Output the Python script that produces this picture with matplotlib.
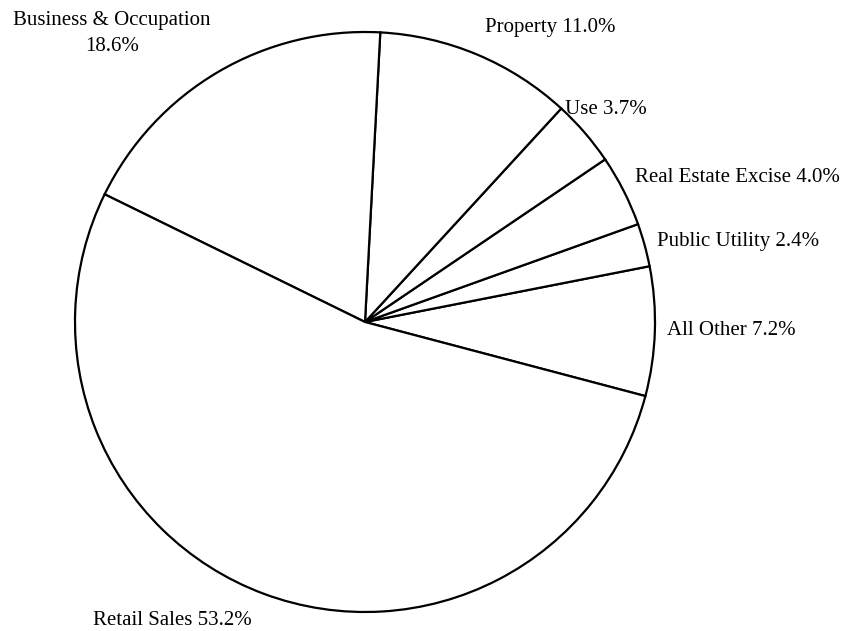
import matplotlib
matplotlib.use("Agg")
import matplotlib.pyplot as plt

categories = ["All Other", "Public Utility", "Real Estate Excise", "Use",
              "Property", "Business & Occupation", "Retail Sales"]
shares = [7.2, 2.4, 4.0, 3.7, 11.0, 18.6, 53.2]
label_texts = ["All Other 7.2%", "Public Utility 2.4%", "Real Estate Excise 4.0%",
               "Use 3.7%", "Property 11.0%", "Business & Occupation\n18.6%",
               "Retail Sales 53.2%"]

# layout: label anchor positions (in pie-radius units) and alignment
label_pos = [(1.041, -0.031), (1.007, 0.279), (0.931, 0.50), (0.690, 0.734),
             (0.414, 1.017), (-0.872, 0.995), (-0.938, -1.028)]
label_ha = ["left", "left", "left", "left", "left", "center", "left"]

plt.rcParams['font.family'] = ['Liberation Serif', 'DejaVu Serif']

fig = plt.figure(figsize=(8.46, 6.31), dpi=100)
ax = fig.add_axes([0, 0, 1, 1])
ax.pie(shares, startangle=-14.8, counterclock=True,
       colors=["white"] * len(shares),
       wedgeprops=dict(edgecolor="black", linewidth=1.6))
ax.set_xlim(-365 / 290, (846 - 365) / 290)
ax.set_ylim((322 - 631) / 290, 322 / 290)
ax.set_aspect("equal")
ax.axis("off")

for txt, (x, y), ha in zip(label_texts, label_pos, label_ha):
    ax.text(x, y, txt, ha=ha, va="center", fontsize=15, linespacing=1.45,
            multialignment="center")

fig.savefig("out.png", dpi=100)
